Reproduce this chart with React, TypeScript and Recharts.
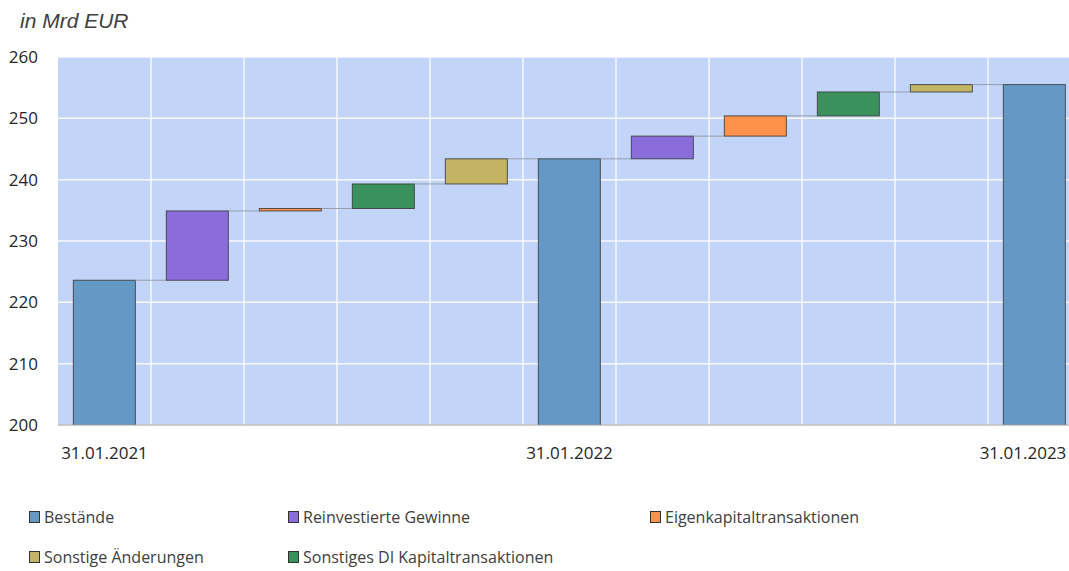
import React from "react";
import { ComposedChart, Bar, XAxis, YAxis, CartesianGrid } from "recharts";

// ---- data ----
const categories = ["31.01.2021", "", "", "", "", "31.01.2022", "", "", "", "", "31.01.2023"];
const stockValues = [223.6, 243.4, 255.5]; // Bestände at each date
const changeSeries = [
  "Reinvestierte Gewinne",
  "Eigenkapitaltransaktionen",
  "Sonstiges DI Kapitaltransaktionen",
  "Sonstige Änderungen",
];
const changes2022 = [11.3, 0.4, 4.0, 4.1];
const changes2023 = [3.7, 3.3, 3.9, 1.2];
const yTicks = [200, 210, 220, 230, 240, 250, 260];

const legendRow1 = ["Bestände", "Reinvestierte Gewinne", "Eigenkapitaltransaktionen"];
const legendRow2 = ["Sonstige Änderungen", "Sonstiges DI Kapitaltransaktionen"];

const colors: Record<string, string> = {
  "Bestände": "#6399c4",
  "Reinvestierte Gewinne": "#8a6cdb",
  "Eigenkapitaltransaktionen": "#fe914c",
  "Sonstiges DI Kapitaltransaktionen": "#3a915b",
  "Sonstige Änderungen": "#c3b464",
};

// build waterfall table
const buildData = () => {
  const rows: any[] = [];
  const periods = [changes2022, changes2023];
  let idx = 0;
  stockValues.forEach((stock, si) => {
    rows.push({ label: categories[idx++], kind: "Bestände", range: [0, stock] });
    if (si < periods.length) {
      let level = stock;
      periods[si].forEach((d, ci) => {
        rows.push({ label: categories[idx++], kind: changeSeries[ci], range: [level, level + d] });
        level += d;
      });
    }
  });
  return rows.map((r, i) => ({ ...r, isLast: i === rows.length - 1 }));
};
const data = buildData();

const GAP = 0.165;
const VIEW_W = 1069;

const WaterfallShape = (props: any) => {
  const { x, y, width, height, payload } = props;
  const color = colors[payload.kind];
  const band = width / (1 - 2 * GAP);
  const gap = band - width;
  return (
    <g>
      <rect x={x} y={y} width={width} height={height} fill={color} stroke="#3a3a3a" strokeOpacity={0.85} strokeWidth={1} />
      {!payload.isLast && (
        <line x1={x + width} y1={y} x2={x + width + gap} y2={y} stroke="#8a8f99" strokeWidth={1} strokeOpacity={0.8} />
      )}
    </g>
  );
};

const FONT = "'Open Sans', sans-serif";
const axisFont = { fontFamily: FONT, fontSize: 17, fill: "#262626" };

// keeps the date label inside the visible window
const XTick = (props: any) => {
  const { x, y, payload } = props;
  const text = String(payload.value ?? "");
  if (!text) return null;
  const half = 44;
  const cx = Math.min(x, VIEW_W - 2 - half);
  return (
    <text x={cx} y={y} dy="0.71em" textAnchor="middle" fontFamily={FONT} fontSize={17} fill="#262626">
      {text}
    </text>
  );
};

const LegendItem = ({ name, left, top }: { name: string; left: number; top: number }) => (
  <div style={{ position: "absolute", left, top, display: "flex", alignItems: "center", fontFamily: FONT, fontSize: 16, color: "#404040", whiteSpace: "nowrap" }}>
    <span style={{ display: "inline-block", width: 9, height: 10, background: colors[name], border: "1px solid #333", marginRight: 4 }} />
    <span>{name}</span>
  </div>
);

export default function App() {
  const legendX = [29, 288, 650];
  return (
    <div style={{ position: "absolute", left: 0, top: 0, width: VIEW_W, height: 571, overflow: "hidden", background: "#fff" }}>
      <div style={{ position: "absolute", left: 20, top: 9, fontFamily: "'Liberation Sans', Arial, sans-serif", fontStyle: "italic", fontSize: 21, color: "#404040" }}>
        in Mrd EUR
      </div>
      <div style={{ position: "absolute", left: 0, top: 0 }}>
        <ComposedChart width={1090} height={470} data={data} margin={{ top: 57, right: 9, bottom: 5, left: 0 }} barCategoryGap={`${GAP * 100}%`}>
          <CartesianGrid
            fill="#c2d4f8"
            fillOpacity={1}
            stroke="#ffffff"
            strokeOpacity={0.85}
            strokeWidth={1.5}
            verticalCoordinatesGenerator={({ offset }: any) =>
              categories.slice(1).map((_, i) => offset.left + ((i + 1) * offset.width) / categories.length)
            }
          />
          <XAxis
            dataKey="label"
            interval={0}
            tickLine={false}
            tickSize={0}
            tickMargin={22}
            height={40}
            axisLine={{ stroke: "#9a9a9a", strokeWidth: 1 }}
            tick={<XTick />}
          />
          <YAxis
            domain={[200, 260]}
            ticks={yTicks}
            allowDataOverflow
            width={58}
            axisLine={false}
            tickLine={false}
            tickSize={0}
            tickMargin={20}
            tick={axisFont}
          />
          <Bar dataKey="range" isAnimationActive={false} shape={WaterfallShape} />
        </ComposedChart>
      </div>
      {legendRow1.map((n, i) => (
        <LegendItem key={n} name={n} left={legendX[i]} top={506} />
      ))}
      {legendRow2.map((n, i) => (
        <LegendItem key={n} name={n} left={legendX[i]} top={546} />
      ))}
    </div>
  );
}
